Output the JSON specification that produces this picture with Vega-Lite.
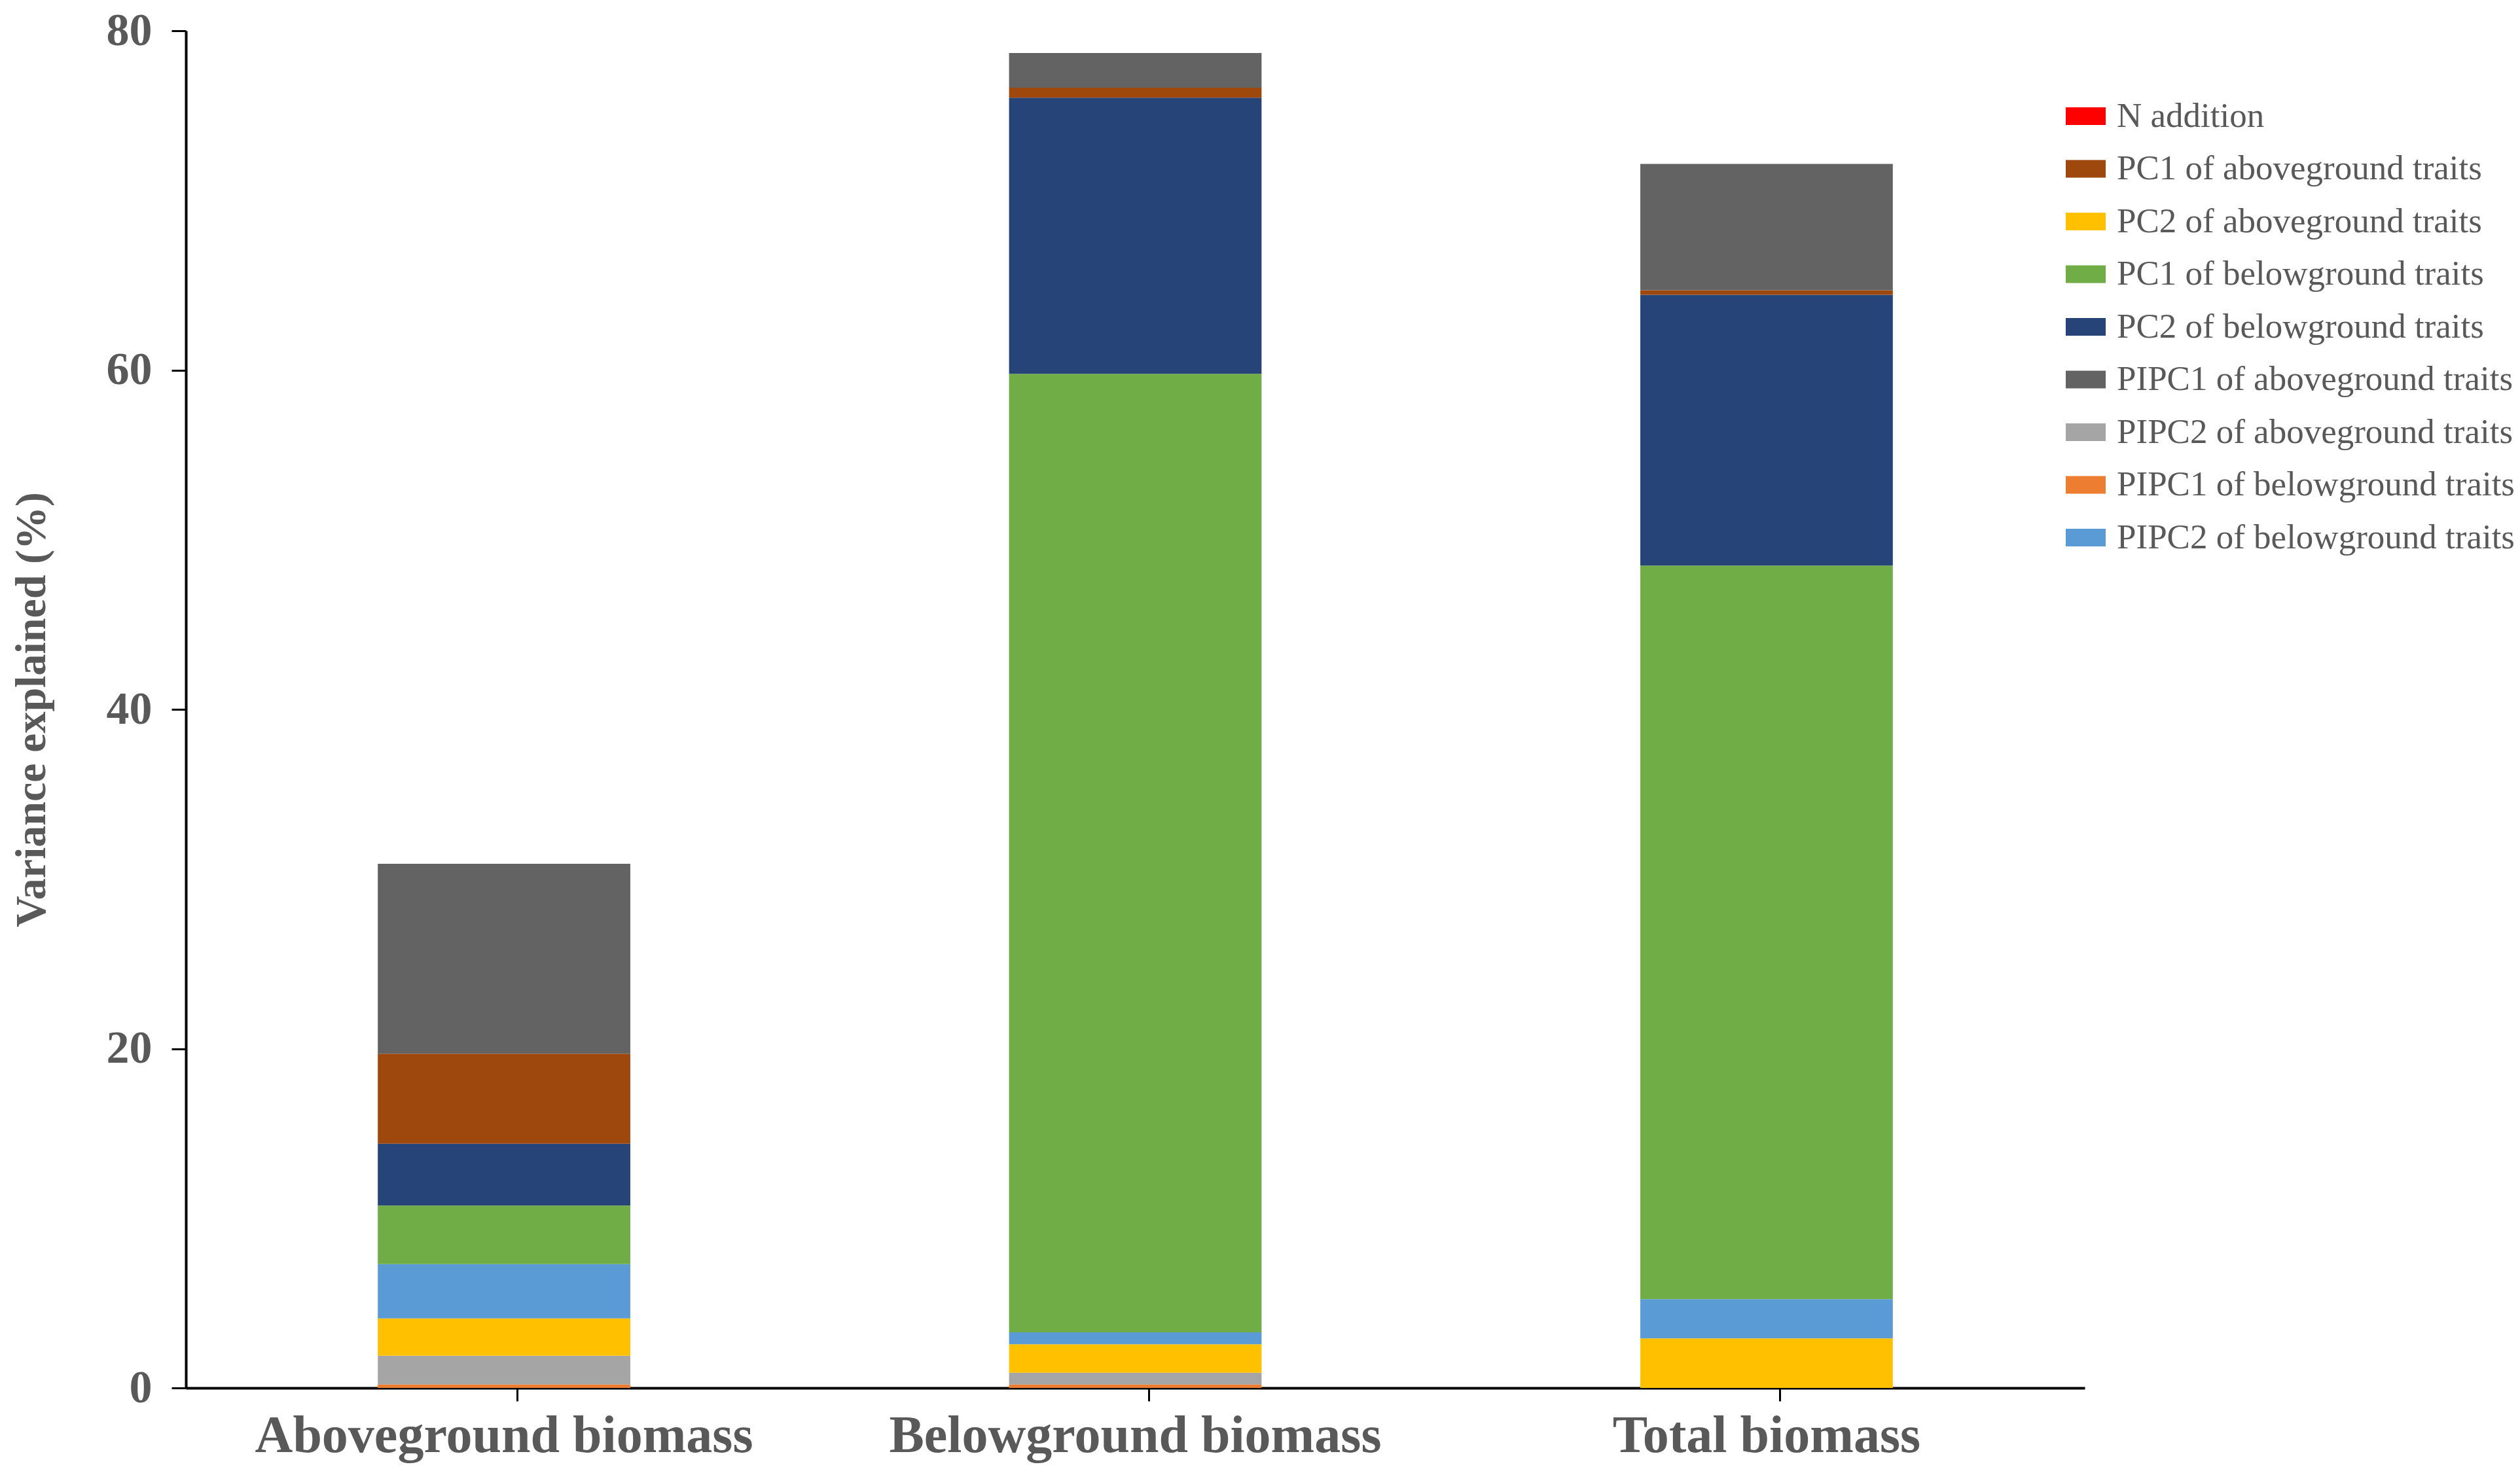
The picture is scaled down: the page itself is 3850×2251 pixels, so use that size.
{
  "$schema": "https://vega.github.io/schema/vega-lite/v6.json",
  "autosize": {"type": "none"},
  "width": 2901,
  "height": 2074,
  "padding": {"left": 284, "top": 47, "right": 665, "bottom": 130},
  "background": "white",
  "config": {"view": {"stroke": null}, "font": "Liberation Serif"},
  "data": {
    "values": [
      {"Biomass": "Aboveground biomass", "Variable": "N addition", "Rank": 0, "Variance": 0},
      {"Biomass": "Aboveground biomass", "Variable": "PIPC1 of belowground traits", "Rank": 1, "Variance": 0.2},
      {"Biomass": "Aboveground biomass", "Variable": "PIPC2 of aboveground traits", "Rank": 2, "Variance": 1.7},
      {"Biomass": "Aboveground biomass", "Variable": "PC2 of aboveground traits", "Rank": 3, "Variance": 2.2},
      {"Biomass": "Aboveground biomass", "Variable": "PIPC2 of belowground traits", "Rank": 4, "Variance": 3.2},
      {"Biomass": "Aboveground biomass", "Variable": "PC1 of belowground traits", "Rank": 5, "Variance": 3.45},
      {"Biomass": "Aboveground biomass", "Variable": "PC2 of belowground traits", "Rank": 6, "Variance": 3.65},
      {"Biomass": "Aboveground biomass", "Variable": "PC1 of aboveground traits", "Rank": 7, "Variance": 5.3},
      {"Biomass": "Aboveground biomass", "Variable": "PIPC1 of aboveground traits", "Rank": 8, "Variance": 11.2},
      {"Biomass": "Belowground biomass", "Variable": "N addition", "Rank": 0, "Variance": 0},
      {"Biomass": "Belowground biomass", "Variable": "PIPC1 of belowground traits", "Rank": 1, "Variance": 0.2},
      {"Biomass": "Belowground biomass", "Variable": "PIPC2 of aboveground traits", "Rank": 2, "Variance": 0.7},
      {"Biomass": "Belowground biomass", "Variable": "PC2 of aboveground traits", "Rank": 3, "Variance": 1.67},
      {"Biomass": "Belowground biomass", "Variable": "PIPC2 of belowground traits", "Rank": 4, "Variance": 0.71},
      {"Biomass": "Belowground biomass", "Variable": "PC1 of belowground traits", "Rank": 5, "Variance": 56.5},
      {"Biomass": "Belowground biomass", "Variable": "PC2 of belowground traits", "Rank": 6, "Variance": 16.28},
      {"Biomass": "Belowground biomass", "Variable": "PC1 of aboveground traits", "Rank": 7, "Variance": 0.58},
      {"Biomass": "Belowground biomass", "Variable": "PIPC1 of aboveground traits", "Rank": 8, "Variance": 2.05},
      {"Biomass": "Total biomass", "Variable": "N addition", "Rank": 0, "Variance": 0},
      {"Biomass": "Total biomass", "Variable": "PIPC1 of belowground traits", "Rank": 1, "Variance": 0},
      {"Biomass": "Total biomass", "Variable": "PIPC2 of aboveground traits", "Rank": 2, "Variance": 0},
      {"Biomass": "Total biomass", "Variable": "PC2 of aboveground traits", "Rank": 3, "Variance": 2.92},
      {"Biomass": "Total biomass", "Variable": "PIPC2 of belowground traits", "Rank": 4, "Variance": 2.32},
      {"Biomass": "Total biomass", "Variable": "PC1 of belowground traits", "Rank": 5, "Variance": 43.24},
      {"Biomass": "Total biomass", "Variable": "PC2 of belowground traits", "Rank": 6, "Variance": 15.96},
      {"Biomass": "Total biomass", "Variable": "PC1 of aboveground traits", "Rank": 7, "Variance": 0.27},
      {"Biomass": "Total biomass", "Variable": "PIPC1 of aboveground traits", "Rank": 8, "Variance": 7.44}
    ]
  },
  "mark": {"type": "bar"},
  "encoding": {
    "x": {
      "field": "Biomass",
      "type": "nominal",
      "sort": ["Aboveground biomass", "Belowground biomass", "Total biomass"],
      "title": null,
      "scale": {"paddingInner": 0.6, "paddingOuter": 0.304, "align": 0.5},
      "axis": {
        "bandPosition": 0.554,
        "labelAngle": 0,
        "labelLimit": 0,
        "labelFont": "Liberation Serif",
        "labelFontWeight": "bold",
        "labelFontSize": 80,
        "labelColor": "#595959",
        "labelPadding": 14,
        "domainColor": "black",
        "domainWidth": 4,
        "tickColor": "black",
        "tickWidth": 3,
        "tickSize": 20
      }
    },
    "y": {
      "field": "Variance",
      "type": "quantitative",
      "stack": "zero",
      "scale": {"domain": [0, 80]},
      "axis": {
        "values": [0, 20, 40, 60, 80],
        "grid": false,
        "title": "Variance explained (%)",
        "titleFont": "Liberation Serif",
        "titleFontSize": 66,
        "titleFontWeight": "bold",
        "titleColor": "#595959",
        "titlePadding": 80,
        "labelFont": "Liberation Serif",
        "labelFontSize": 70,
        "labelFontWeight": "bold",
        "labelColor": "#595959",
        "labelPadding": 30,
        "domainColor": "black",
        "domainWidth": 4,
        "tickColor": "black",
        "tickWidth": 3,
        "tickSize": 22
      }
    },
    "color": {
      "field": "Variable",
      "type": "nominal",
      "scale": {
        "domain": [
          "N addition",
          "PC1 of aboveground traits",
          "PC2 of aboveground traits",
          "PC1 of belowground traits",
          "PC2 of belowground traits",
          "PIPC1 of aboveground traits",
          "PIPC2 of aboveground traits",
          "PIPC1 of belowground traits",
          "PIPC2 of belowground traits"
        ],
        "range": ["#FF0000", "#9E480E", "#FFC000", "#70AD47", "#264478", "#636363", "#A5A5A5", "#ED7D31", "#5B9BD5"]
      },
      "legend": {
        "orient": "none",
        "legendX": 2872,
        "legendY": 100,
        "title": null,
        "padding": 0,
        "labelFont": "Liberation Serif",
        "labelFontSize": 53,
        "labelColor": "#595959",
        "labelLimit": 0,
        "labelOffset": 17,
        "symbolType": "M-1,-0.44H1V0.44H-1Z",
        "symbolSize": 3721,
        "symbolStrokeWidth": 0,
        "symbolOpacity": 1,
        "rowPadding": 22.5
      }
    },
    "order": {"field": "Rank", "type": "quantitative"}
  }
}
